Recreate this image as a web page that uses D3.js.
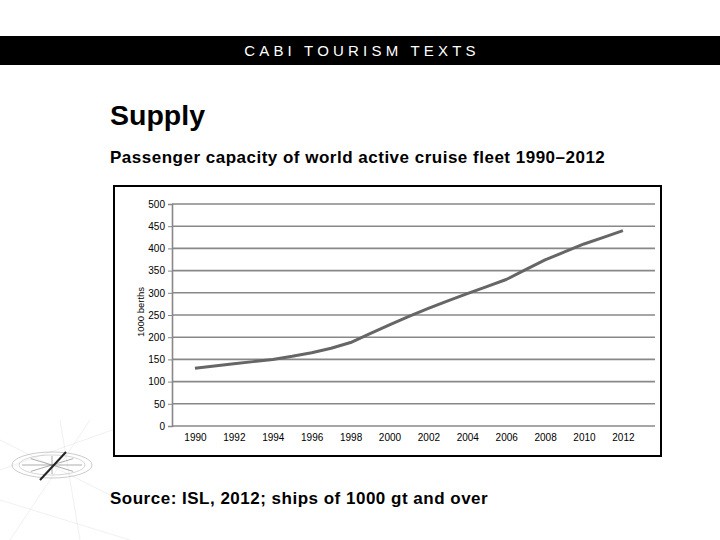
<!DOCTYPE html>
<html>
<head>
<meta charset="utf-8">
<script src="https://cdn.jsdelivr.net/npm/d3@7"></script>
<style>
  body { margin: 0; background: #fff; }
  text { font-family: "Liberation Sans", Arial, sans-serif; }
</style>
</head>
<body>
<div id="chart"></div>
<script>
//Datos
const years = [1990,1991,1992,1993,1994,1995,1996,1997,1998,1999,2000,2001,2002,2003,2004,2005,2006,2007,2008,2009,2010,2011,2012];
const berths = [130,135,140,145,150,157,165,175,188,208,228,247,265,282,298,314,330,352,374,392,410,425,440];
const yTicks = [0,50,100,150,200,250,300,350,400,450,500];
const xTicks = [1990,1992,1994,1996,1998,2000,2002,2004,2006,2008,2010,2012];

const W = 720, H = 540;
const FONT = "\"Liberation Sans\", Arial, sans-serif";
let svg = d3.select("#chart").append("svg")
    .attr("width", W).attr("height", H);

//Cabecera negra
svg.append("rect").attr("x", 0).attr("y", 36).attr("width", W).attr("height", 29).attr("fill", "#000");
svg.append("text")
    .attr("x", 362).attr("y", 56)
    .attr("text-anchor", "middle")
    .attr("fill", "#fff")
    .style("font-size", "15px")
    .style("letter-spacing", "4.2px")
    .style("font-weight", "300")
    .text("CABI TOURISM TEXTS");

//Brújula decorativa
let deco = svg.append("g").attr("fill", "none").attr("stroke-width", 0.6);
[[0,470,140,420],[10,540,90,420],[0,500,130,540],[60,420,80,540],[0,440,120,500]].forEach(function(l){
    deco.append("line").attr("x1", l[0]).attr("y1", l[1]).attr("x2", l[2]).attr("y2", l[3]).attr("stroke", "#e6e6e6");
});
deco.append("ellipse").attr("cx", 52).attr("cy", 465).attr("rx", 40).attr("ry", 13).attr("stroke", "#aaa");
deco.append("ellipse").attr("cx", 52).attr("cy", 465).attr("rx", 33).attr("ry", 10).attr("stroke", "#bbb");
d3.range(8).forEach(function(i){
    let a = i * Math.PI / 4;
    deco.append("line")
        .attr("x1", 52).attr("y1", 465)
        .attr("x2", 52 + Math.cos(a) * 30).attr("y2", 465 + Math.sin(a) * 9)
        .attr("stroke", "#777");
});
deco.append("line").attr("x1", 40).attr("y1", 480).attr("x2", 66).attr("y2", 452).attr("stroke", "#222").attr("stroke-width", 2);

//Títulos
svg.append("text").attr("x", 110).attr("y", 125)
    .style("font-size", "28.5px").style("font-weight", "bold").attr("fill", "#000").text("Supply");
svg.append("text").attr("x", 110).attr("y", 163)
    .style("font-size", "17px").style("font-weight", "bold").style("letter-spacing", "0.5px").attr("fill", "#000")
    .text("Passenger capacity of world active cruise fleet 1990\u20132012");
svg.append("text").attr("x", 110).attr("y", 504)
    .style("font-size", "17px").style("font-weight", "bold").style("letter-spacing", "0.5px").attr("fill", "#000")
    .text("Source: ISL, 2012; ships of 1000 gt and over");

//Marco
svg.append("rect").attr("x", 114).attr("y", 186).attr("width", 547).attr("height", 270)
    .attr("fill", "#fff").attr("stroke", "#000").attr("stroke-width", 2);

//Escalas
let x = d3.scaleLinear().domain([1988.82, 2013.65]).range([172, 655]);
let y = d3.scaleLinear().domain([0, 500]).range([426, 204]);

//Rejilla
svg.append("g").selectAll("line").data(yTicks).enter().append("line")
    .attr("x1", 172).attr("x2", 655)
    .attr("y1", function(d){ return y(d); }).attr("y2", function(d){ return y(d); })
    .attr("stroke", "#888").attr("stroke-width", 1.6);

//Eje Y
let yAxis = svg.append("g").attr("transform", "translate(172,0)")
    .call(d3.axisLeft(y).tickValues(yTicks).tickSize(4).tickPadding(3));
yAxis.select(".domain").attr("stroke", "#888").attr("stroke-width", 1.6);
yAxis.selectAll(".tick line").attr("stroke", "#888");
yAxis.selectAll("text").style("font-size", "10px").attr("fill", "#000").style("font-family", FONT);

//Eje X
let xAxis = svg.append("g").attr("transform", "translate(0,426)")
    .call(d3.axisBottom(x).tickValues(xTicks).tickFormat(d3.format("d")).tickSize(0).tickPadding(8));
xAxis.select(".domain").remove();
xAxis.selectAll("text").style("font-size", "10px").attr("fill", "#000").style("font-family", FONT);

//Título eje Y
svg.append("text")
    .attr("transform", "translate(144,312) rotate(-90)")
    .attr("text-anchor", "middle")
    .style("font-size", "9.5px").attr("fill", "#000")
    .text("1000 berths");

//Línea
let line = d3.line()
    .x(function(d, i){ return x(years[i]); })
    .y(function(d){ return y(d); });

svg.append("path")
    .datum(berths)
    .attr("d", line)
    .attr("fill", "none")
    .attr("stroke", "#666")
    .attr("stroke-width", 3)
    .attr("stroke-linejoin", "round");
</script>
</body>
</html>
